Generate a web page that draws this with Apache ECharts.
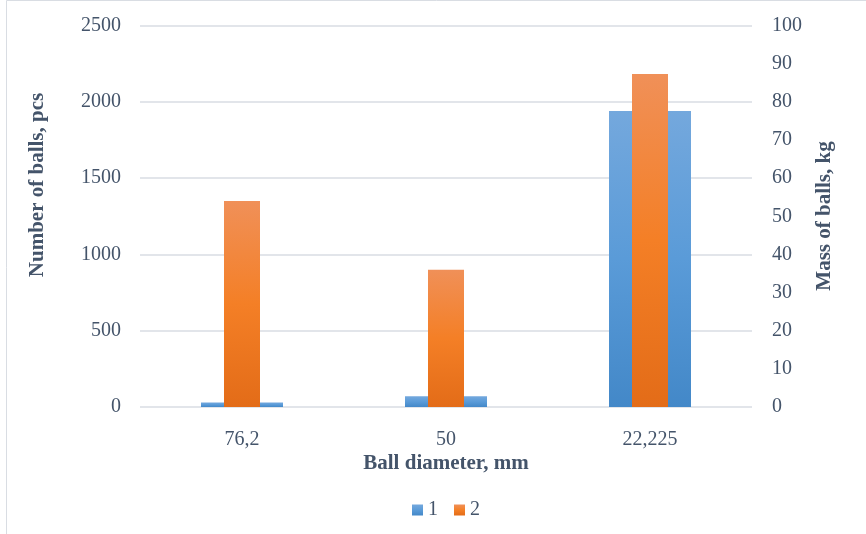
<!DOCTYPE html>
<html>
<head>
<meta charset="utf-8">
<script src="https://cdn.jsdelivr.net/npm/echarts@6/dist/echarts.min.js"></script>
<style>html,body{margin:0;padding:0;background:#fff}#c{width:866px;height:534px}</style>
</head>
<body>
<div id="c"></div>
<script>
const categories = ['76,2', '50', '22,225'];
const seriesNames = ['1', '2'];
const countValues = [30, 70, 1940];
const massValues = [54, 36, 87.3];
const leftTicks = {min: 0, max: 2500, interval: 500};
const rightTicks = {min: 0, max: 100, interval: 10};

const txt = '#44546a';
const font = '"Liberation Serif","Times New Roman",serif';
const chart = echarts.init(document.getElementById('c'));
const blueGrad = new echarts.graphic.LinearGradient(0, 0, 0, 1, [
  {offset: 0, color: '#74a8dd'}, {offset: 0.5, color: '#5a9bd8'}, {offset: 1, color: '#4388c8'}]);
const orangeGrad = new echarts.graphic.LinearGradient(0, 0, 0, 1, [
  {offset: 0, color: '#f09058'}, {offset: 0.5, color: '#f47f26'}, {offset: 1, color: '#e36c18'}]);
chart.setOption({
  animation: false,
  grid: {left: 140, right: 114, top: 25.5, bottom: 127},
  legend: {
    data: seriesNames, left: 412, top: 500, padding: 0, itemWidth: 11, itemHeight: 11, itemGap: 16,
    icon: 'rect',
    textStyle: {fontFamily: font, fontSize: 20, color: txt}
  },
  xAxis: [
    {type: 'category', data: categories, axisLine: {show: false}, axisTick: {show: false},
     axisLabel: {margin: 23, fontFamily: font, fontSize: 20, color: txt}},
    {type: 'category', data: categories, show: false}
  ],
  yAxis: [
    {type: 'value', min: leftTicks.min, max: leftTicks.max, interval: leftTicks.interval,
     axisLine: {show: false}, axisTick: {show: false},
     axisLabel: {margin: 19, fontFamily: font, fontSize: 20, color: txt, formatter: v => String(v)},
     splitLine: {lineStyle: {color: '#d9dde3', width: 1.5}}},
    {type: 'value', min: rightTicks.min, max: rightTicks.max, interval: rightTicks.interval,
     position: 'right', axisLine: {show: false}, axisTick: {show: false},
     axisLabel: {margin: 20, fontFamily: font, fontSize: 20, color: txt, align: 'left', formatter: v => String(v)},
     splitLine: {show: false}}
  ],
  series: [
    {name: seriesNames[0], type: 'bar', xAxisIndex: 0, yAxisIndex: 0, data: countValues,
     barWidth: 82, itemStyle: {color: blueGrad}},
    {name: seriesNames[1], type: 'bar', xAxisIndex: 1, yAxisIndex: 1, data: massValues,
     barWidth: 36, itemStyle: {color: orangeGrad}}
  ],
  graphic: [
    {type: 'rect', shape: {x: 6.5, y: 0.5, width: 900, height: 600}, style: {fill: 'none', stroke: '#d9dde3', lineWidth: 1}, silent: true},
    {type: 'text', x: 38, y: 185, rotation: Math.PI / 2,
     style: {text: 'Number of balls, pcs', fontFamily: font, fontSize: 21, fontWeight: 'bold', fill: txt, align: 'center', verticalAlign: 'middle'}},
    {type: 'text', x: 825, y: 216, rotation: Math.PI / 2,
     style: {text: 'Mass of balls, kg', fontFamily: font, fontSize: 21, fontWeight: 'bold', fill: txt, align: 'center', verticalAlign: 'middle'}},
    {type: 'text', x: 446, y: 464,
     style: {text: 'Ball diameter, mm', fontFamily: font, fontSize: 21, fontWeight: 'bold', fill: txt, align: 'center', verticalAlign: 'middle'}}
  ]
});
</script>
</body>
</html>
